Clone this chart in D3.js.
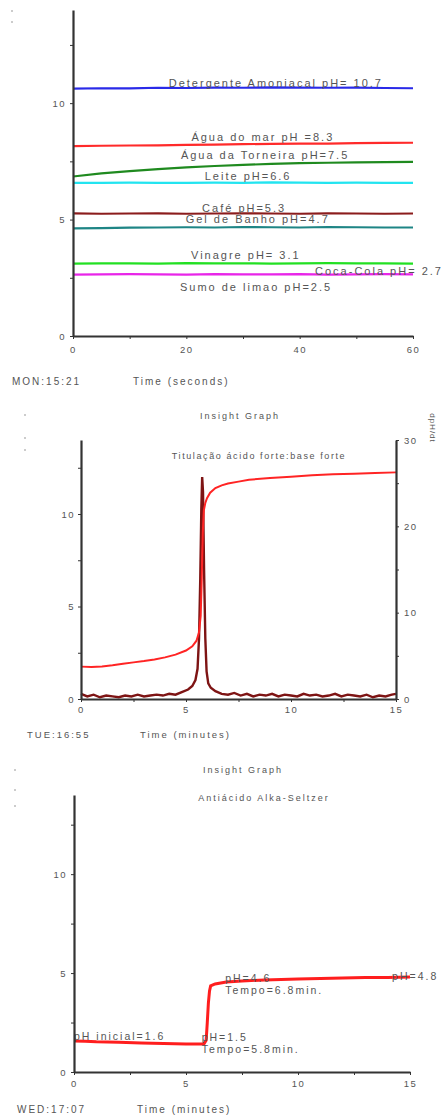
<!DOCTYPE html>
<html><head><meta charset="utf-8">
<script src="https://cdn.jsdelivr.net/npm/d3@7"></script>
<style>
html,body{margin:0;padding:0;background:#fff;}
text{font-family:"Liberation Sans",Arial,sans-serif;fill:#555;}
</style></head>
<body><svg id="c" width="448" height="1115"></svg>
<script>
// ---------- Chart 1 : pH of household substances (time in seconds) ----------
const timeTop = [0,5,10,15,20,25,30,35,40,45,50,55,60];
const detergente = [10.62,10.64,10.63,10.66,10.65,10.67,10.66,10.68,10.67,10.66,10.67,10.65,10.64];
const aguaMar    = [8.15,8.17,8.18,8.19,8.21,8.22,8.24,8.25,8.26,8.26,8.28,8.29,8.3];
const torneira   = [6.85,6.98,7.08,7.17,7.24,7.3,7.35,7.39,7.42,7.44,7.46,7.47,7.48];
const leite      = [6.58,6.58,6.59,6.58,6.58,6.59,6.58,6.6,6.59,6.58,6.59,6.58,6.58];
const cafe       = [5.27,5.25,5.26,5.27,5.25,5.26,5.27,5.26,5.25,5.27,5.26,5.25,5.26];
const gelBanho   = [4.62,4.63,4.65,4.66,4.67,4.66,4.68,4.67,4.66,4.68,4.67,4.66,4.66];
const vinagre    = [3.11,3.12,3.12,3.11,3.13,3.12,3.12,3.11,3.12,3.13,3.12,3.12,3.11];
const sumoLimao  = [2.64,2.65,2.66,2.65,2.64,2.66,2.65,2.65,2.66,2.64,2.65,2.66,2.65];
const seriesTop  = [detergente,aguaMar,torneira,leite,cafe,gelBanho,vinagre,sumoLimao];
const colorsTop  = ["#2a2ae8","#ff2a2a","#1f8a1f","#22e4f0","#8b1c1c","#1e8585","#22e022","#e825e8"];

const labelsTop  = ["Detergente Amoniacal pH= 10.7","Água do mar pH =8.3","Água da Torneira pH=7.5","Leite pH=6.6","Café pH=5.3","Gel de Banho pH=4.7","Vinagre pH= 3.1","Coca-Cola pH= 2.7","Sumo de limao pH=2.5"];
const labelTopT  = [35.8,33.5,33.9,30.9,30.2,32.6,30.5,54.0,32.3];
const labelTopPH = [10.82,8.52,7.74,6.84,5.47,4.96,3.42,2.73,2.05];

// ---------- Chart 2 : strong acid / strong base titration (minutes) ----------
const titPH = [[0,1.75],[0.5,1.73],[1,1.76],[1.5,1.82],[2,1.9],[2.5,1.98],[3,2.05],[3.5,2.14],[4,2.25],[4.5,2.4],[5,2.62],[5.3,2.85],[5.5,3.15],[5.62,3.6],[5.7,4.5],[5.75,6.5],[5.8,9.0],[5.85,10.2],[5.92,10.6],[6.0,10.85],[6.15,11.15],[6.4,11.4],[6.7,11.55],[7,11.65],[7.5,11.75],[8,11.85],[9,11.95],[10,12.02],[11,12.1],[12,12.15],[13,12.18],[14,12.22],[15,12.25]];
const titDeriv = [[0,0.6],[0.3,0.3],[0.6,0.5],[0.9,0.2],[1.2,0.4],[1.5,0.3],[1.8,0.2],[2.1,0.4],[2.4,0.3],[2.7,0.5],[3.0,0.3],[3.3,0.4],[3.6,0.5],[3.9,0.4],[4.2,0.6],[4.5,0.5],[4.8,0.8],[5.1,1.1],[5.3,1.5],[5.45,2.2],[5.55,3.5],[5.62,7],[5.68,14],[5.73,22],[5.77,25.7],[5.81,24],[5.86,15],[5.92,7],[5.98,3.2],[6.06,1.8],[6.18,1.3],[6.4,0.9],[6.7,0.6],[7.0,0.5],[7.3,0.7],[7.6,0.4],[7.9,0.6],[8.2,0.3],[8.5,0.5],[8.8,0.4],[9.1,0.6],[9.4,0.3],[9.7,0.5],[10.0,0.4],[10.3,0.3],[10.6,0.6],[10.9,0.4],[11.2,0.5],[11.5,0.3],[11.8,0.4],[12.1,0.6],[12.4,0.3],[12.7,0.5],[13.0,0.4],[13.3,0.3],[13.6,0.5],[13.9,0.2],[14.2,0.4],[14.5,0.3],[14.8,0.5],[15,0.6]];

// ---------- Chart 3 : antacid Alka-Seltzer (minutes) ----------
const alkaPH = [[0,1.57],[0.5,1.56],[1,1.53],[2,1.5],[3,1.47],[4,1.44],[5,1.42],[5.5,1.41],[5.8,1.42],[5.9,1.6],[5.95,2.5],[6.0,3.5],[6.05,4.1],[6.1,4.35],[6.3,4.45],[6.8,4.55],[7.5,4.6],[8.5,4.65],[10,4.7],[11,4.72],[12,4.75],[13,4.77],[14,4.78],[15,4.8]];
const alkaNotes  = ["pH inicial=1.6","pH=1.5","Tempo=5.8min.","pH=4.6","Tempo=6.8min.","pH=4.8"];
const alkaNoteT  = [0,5.7,5.7,6.75,6.75,14.2];
const alkaNotePH = [1.77,1.72,1.1,4.69,4.08,4.8];

const svg = d3.select("#c");

function styleAxis(g, w){
  g.select(".domain").attr("stroke","#333").attr("stroke-width",w);
  g.selectAll(".tick line").attr("stroke","#333").attr("stroke-width",1);
  g.selectAll(".tick text").attr("font-size",9.5).attr("letter-spacing","1.5px").attr("fill","#555")
   .style("font-family","'Liberation Sans',Arial,sans-serif");
}
function txt(x,y,s,opts={}){
  return svg.append("text").attr("x",x).attr("y",y).attr("dominant-baseline","middle")
    .attr("font-size",opts.size||11).attr("letter-spacing",(opts.ls==null?2:opts.ls)+"px")
    .attr("text-anchor",opts.anchor||"start").text(s);
}
function dots(x,ys){ ys.forEach(y=>svg.append("rect").attr("x",x).attr("y",y).attr("width",2).attr("height",2).attr("fill","#ccc")); }

// ===== Chart 1 =====
{
  const x = d3.scaleLinear([0,60],[73,413]);
  const y = d3.scaleLinear([0,14],[336,10]);
  dots(11,[10,21]);
  const line = d3.line().x((d,i)=>x(timeTop[i])).y(d=>y(d));
  seriesTop.forEach((s,k)=>{
    svg.append("path").attr("d",line(s)).attr("fill","none").attr("stroke",colorsTop[k]).attr("stroke-width",2.2);
  });
  labelsTop.forEach((s,i)=>txt(x(labelTopT[i]),y(labelTopPH[i]),s,{anchor:"middle"}));
  const gy = svg.append("g").attr("transform","translate(73,0)")
    .call(d3.axisLeft(y).tickValues([0,2.5,5,7.5,10,12.5]).tickSize(3).tickSizeOuter(0).tickPadding(4).tickFormat(d=>d%5===0?d:""));
  styleAxis(gy,2.2);
  const gx = svg.append("g").attr("transform","translate(0,336)")
    .call(d3.axisBottom(x).tickValues([0,10,20,30,40,50,60]).tickSize(3).tickSizeOuter(0).tickPadding(7).tickFormat(d=>d%20===0?d:""));
  styleAxis(gx,1.8);
  txt(12,382,"MON:15:21",{size:10});
  txt(133,382,"Time (seconds)",{size:10});
}

// ===== Chart 2 =====
{
  const x = d3.scaleLinear([0,15],[81,396]);
  const yL = d3.scaleLinear([0,14],[699,440]);
  const yR = d3.scaleLinear([0,30],[699,440]);
  dots(24,[414,437,449]);
  txt(240,417,"Insight Graph",{size:9,anchor:"middle"});
  txt(259,457,"Titulação ácido forte:base forte",{size:9,anchor:"middle",ls:1.6});
  svg.append("text").attr("transform","translate(432,428) rotate(90)").attr("text-anchor","middle")
    .attr("dominant-baseline","middle").attr("font-size",8).attr("letter-spacing","1px").text("dpH/dt");
  svg.append("path").attr("d",d3.line().x(d=>x(d[0])).y(d=>yR(d[1]))(titDeriv))
    .attr("fill","none").attr("stroke","#7e1414").attr("stroke-width",2.4);
  svg.append("path").attr("d",d3.line().x(d=>x(d[0])).y(d=>yL(d[1]))(titPH))
    .attr("fill","none").attr("stroke","#ff2424").attr("stroke-width",2);
  const gy = svg.append("g").attr("transform","translate(81,0)")
    .call(d3.axisLeft(yL).tickValues([0,2.5,5,7.5,10,12.5]).tickSize(3).tickSizeOuter(0).tickPadding(3).tickFormat(d=>d%5===0?d:""));
  styleAxis(gy,2.2);
  const gr = svg.append("g").attr("transform","translate(396,0)")
    .call(d3.axisRight(yR).tickValues([0,5,10,15,20,25,30]).tickSize(3).tickSizeOuter(0).tickPadding(5).tickFormat(d=>d%10===0?d:""));
  styleAxis(gr,2.2);
  const gx = svg.append("g").attr("transform","translate(0,699)")
    .call(d3.axisBottom(x).tickValues([0,2.5,5,7.5,10,12.5,15]).tickSize(3).tickSizeOuter(0).tickPadding(4).tickFormat(d=>d%5===0?d:""));
  styleAxis(gx,1.8);
  txt(27,735,"TUE:16:55",{size:9.5});
  txt(140,735,"Time (minutes)",{size:9.5});
}

// ===== Chart 3 =====
{
  const x = d3.scaleLinear([0,15],[74,410]);
  const y = d3.scaleLinear([0,14],[1072,795]);
  dots(14,[769,789,805]);
  txt(243,771,"Insight Graph",{size:9,anchor:"middle"});
  txt(264,799,"Antiácido Alka-Seltzer",{size:9,anchor:"middle"});
  svg.append("path").attr("d",d3.line().x(d=>x(d[0])).y(d=>y(d[1]))(alkaPH))
    .attr("fill","none").attr("stroke","#ff1e1e").attr("stroke-width",3);
  alkaNotes.forEach((s,i)=>txt(x(alkaNoteT[i]),y(alkaNotePH[i]),s,{size:10.5}));
  const gy = svg.append("g").attr("transform","translate(74,0)")
    .call(d3.axisLeft(y).tickValues([0,2.5,5,7.5,10,12.5]).tickSize(3).tickSizeOuter(0).tickPadding(4).tickFormat(d=>d%5===0?d:""));
  styleAxis(gy,2.2);
  const gx = svg.append("g").attr("transform","translate(0,1072)")
    .call(d3.axisBottom(x).tickValues([0,2.5,5,7.5,10,12.5,15]).tickSize(3).tickSizeOuter(0).tickPadding(5).tickFormat(d=>d%5===0?d:""));
  styleAxis(gx,1.8);
  txt(17,1110,"WED:17:07",{size:10});
  txt(137,1110,"Time (minutes)",{size:10});
}
</script></body></html>
